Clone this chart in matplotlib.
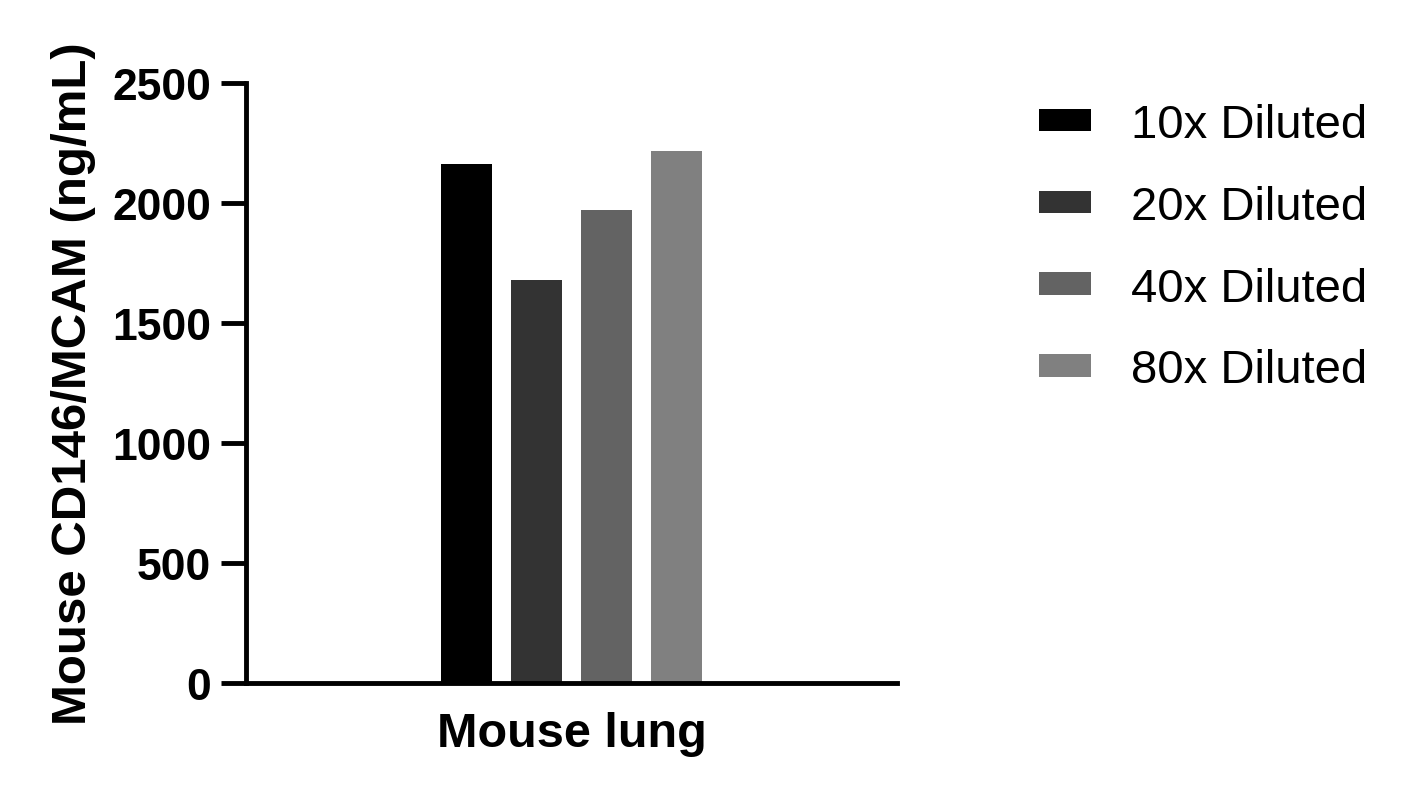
import matplotlib
matplotlib.use("Agg")
import matplotlib.pyplot as plt
import numpy as np

plt.rcParams['font.family'] = ['Liberation Sans', 'DejaVu Sans']

category = "Mouse lung"
series = ["10x Diluted", "20x Diluted", "40x Diluted", "80x Diluted"]
values = [2162, 1679, 1972, 2217]
colors = ["#000000", "#333333", "#636363", "#808080"]
yticks = [0, 500, 1000, 1500, 2000, 2500]
ylabel = "Mouse CD146/MCAM (ng/mL)"

fig = plt.figure(figsize=(14.15, 8.04), dpi=100)
ax = fig.add_axes([246/1415, 1-684/804, (897-246)/1415, (684-84)/804])

bar_w = 0.078
step = 0.1075
n = len(series)
offsets = (np.arange(n) - (n-1)/2) * step
for off, v, c, lab in zip(offsets, values, colors, series):
    ax.bar(off, v, width=bar_w, color=c, label=lab, linewidth=0)

ax.set_xlim(-0.5, 0.5)
ax.set_ylim(0, 2500)
ax.set_yticks(yticks)
ax.set_xticks([0])
ax.set_xticklabels([category])
ax.tick_params(axis='x', length=0, pad=20, labelsize=35)
ax.tick_params(axis='y', length=18, width=3.5, pad=7, labelsize=32)
for t in ax.get_xticklabels() + ax.get_yticklabels():
    t.set_fontweight('bold')
for s in ['top', 'right']:
    ax.spines[s].set_visible(False)
for s in ['left', 'bottom']:
    ax.spines[s].set_linewidth(3.5)
ax.spines['left'].set_capstyle('projecting')
ax.set_ylabel(ylabel, fontsize=35.5, fontweight='bold', labelpad=12)

fig.legend(loc='upper left', bbox_to_anchor=(1039/1415, 1-104/804), frameon=False,
           fontsize=34, handlelength=1.1, handleheight=0.35, handletextpad=0.85,
           labelspacing=0.8, borderpad=0, borderaxespad=0)

fig.savefig("out.png", dpi=100)
